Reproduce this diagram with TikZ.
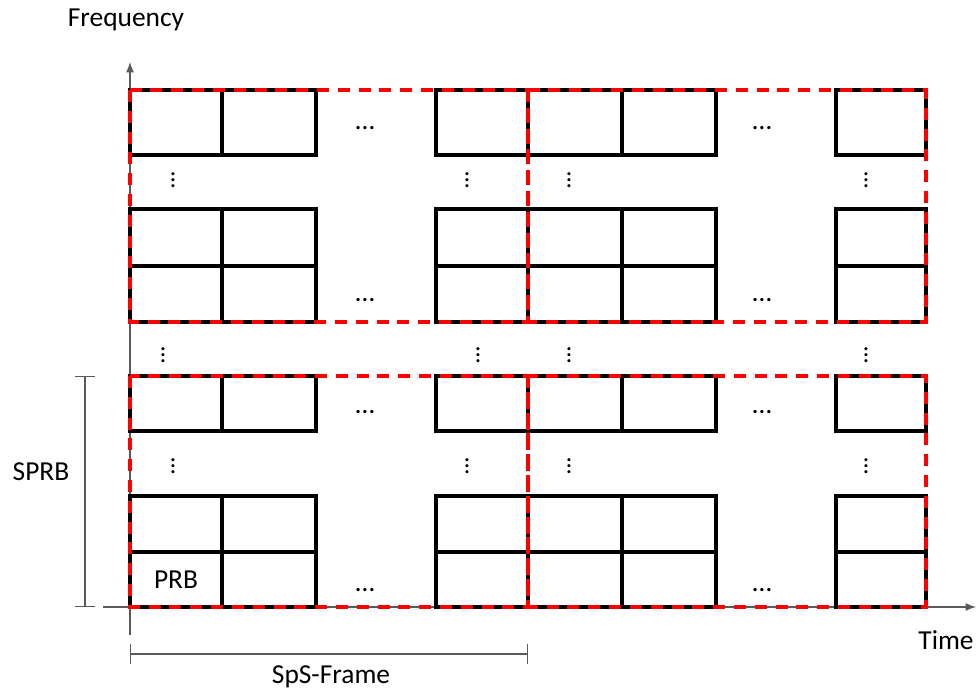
\documentclass[tikz,border=0pt]{standalone}
\usepackage{fontspec}
\setmainfont{Carlito}
\usepackage{tikz}
\usetikzlibrary{arrows.meta,positioning,calc}
\definecolor{axisgrey}{RGB}{90,90,90}
\definecolor{sepred}{RGB}{255,0,0}
\tikzset{
    prbcell/.style={draw=black, line width=2.5pt},
    sepbox/.style={draw=sepred, line width=2.5pt, dash pattern=on 0.3cm off 0.22cm},
    axisline/.style={draw=axisgrey, line width=0.8pt, -{Latex[length=2.6mm, width=2mm]}},
    spanline/.style={draw=axisgrey, line width=0.8pt, {Bar[width=5mm]}-{Bar[width=5mm]}},
    lbl/.style={font=\fontsize{19.5}{23}\selectfont, text=black, inner sep=0pt},
    hdots/.style={font=\fontsize{19.5}{23}\selectfont, inner sep=0pt},
    vdotsn/.style={font=\fontsize{18}{20}\selectfont, inner sep=0pt},
}

\begin{document}
\begin{tikzpicture}[x=0.025cm, y=-0.025cm]
    \useasboundingbox (0,0) rectangle (976,691);

    % axes
    \coordinate (origin) at (130,607);
    \coordinate (ybot) at (130,635);
    \coordinate (ytop) at (130,62);
    \coordinate (xleft) at (103,607);
    \coordinate (xright) at (976,607);
    \draw[axisline] (ybot) -- (ytop);
    \draw[axisline] (xleft) -- (xright);

    % PRB cells
    \foreach \xa/\xb in {130/222, 222/316, 436/528, 528/622, 622/716, 836/926}{
        \foreach \ya/\yb in {90/155, 209/266, 266/322, 376/431, 496/552, 552/607}{
            \draw[prbcell] (\xa,\ya) rectangle (\xb,\yb);
        }
    }

    % SPRB x SpS-Frame boundaries
    \foreach \xa/\xb in {130/528, 528/926}{
        \foreach \ya/\yb in {90/322, 376/607}{
            \draw[sepbox] (\xa,\ya) rectangle (\xb,\yb);
        }
    }

    % horizontal dots
    \foreach \xd in {365, 762}{
        \foreach \yd in {128, 300, 412, 590}{
            \node[hdots] at (\xd,\yd) {…};
        }
    }
    % vertical dots
    \foreach \xd/\yd in {173/176, 467/176, 569/176, 866/176,
                        163/351, 478/351, 569/351, 866/351,
                        173/462, 467/462, 569/462, 866/462}{
        \node[vdotsn] at (\xd,\yd) {$\vdots$};
    }

    % labels
    \node[lbl] (freq) at (126,20) {Frequency};
    \node[lbl] (time) at (946,640) {Time};
    \node[lbl] (prb) at (176,580) {PRB};

    % SPRB span
    \coordinate (sprbtop) at (85,376);
    \coordinate (sprbbot) at (85,607);
    \draw[spanline] (sprbtop) -- (sprbbot);
    \node[lbl] (sprb) at (41,472) {SPRB};

    % SpS-Frame span
    \coordinate (spsleft) at (130,654);
    \coordinate (spsright) at (528,654);
    \draw[spanline] (spsleft) -- (spsright);
    \node[lbl] (spsframe) at (331,677) {SpS-Frame};
\end{tikzpicture}
\end{document}
